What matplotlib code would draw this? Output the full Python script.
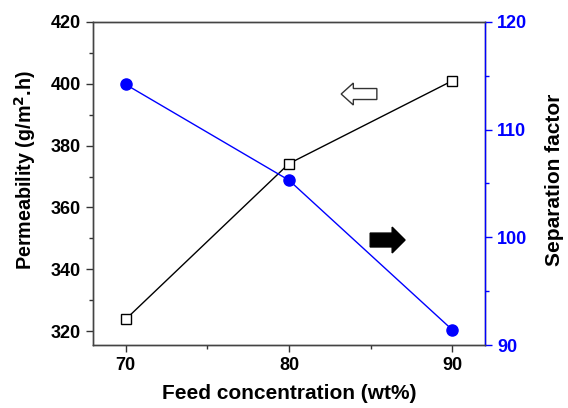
import matplotlib
matplotlib.use("Agg")
import matplotlib.pyplot as plt
from matplotlib.patches import FancyArrow
from matplotlib.ticker import MultipleLocator

plt.rcParams['font.family'] = ['Liberation Sans', 'DejaVu Sans']
plt.rcParams['font.weight'] = 'bold'

# data
feed_conc = [70, 80, 90]
permeability = [323.8, 374.2, 401.0]
separation = [114.2, 105.3, 91.4]

fig = plt.figure(figsize=(5.68, 4.08), dpi=100)
ax = fig.add_axes([0.1637, 0.1544, 0.6903, 0.7917])
ax2 = ax.twinx()

ax.plot(feed_conc, permeability, color='black', lw=1, marker='s', ms=7,
        mfc='white', mec='black', mew=1, zorder=3)
ax2.plot(feed_conc, separation, color='blue', lw=1, marker='o', ms=8,
         mfc='blue', mec='blue')

ax.set_xlim(68, 92)
ax.set_ylim(315.5, 420)
ax2.set_ylim(90, 120)

ax.xaxis.set_major_locator(MultipleLocator(10))
ax.xaxis.set_minor_locator(MultipleLocator(5))
ax.yaxis.set_major_locator(MultipleLocator(20))
ax.yaxis.set_minor_locator(MultipleLocator(10))
ax2.yaxis.set_major_locator(MultipleLocator(10))
ax2.yaxis.set_minor_locator(MultipleLocator(5))

for a in (ax, ax2):
    for s in a.spines.values():
        s.set_color('#444444')
        s.set_linewidth(1)
ax2.spines['right'].set_color('blue')

ax.tick_params(which='major', direction='out', length=5, width=1,
               labelsize=13, colors='#333333', labelcolor='black')
ax.tick_params(which='minor', direction='out', length=3, width=1, colors='#333333')
ax2.tick_params(which='major', direction='out', length=5, width=1,
                labelsize=13, colors='blue')
ax2.tick_params(which='minor', direction='out', length=3, width=1, colors='blue')

ax.set_xlabel('Feed concentration (wt%)', fontsize=15, fontweight='bold', labelpad=7)
ax.set_ylabel('Permeability (g/m$^\\mathbf{2}$.h)', fontsize=14.2,
              fontweight='bold')
ax.yaxis.set_label_coords(-0.14, 0.542)
ax2.set_ylabel('Separation factor', fontsize=15, fontweight='bold', color='black')
ax2.yaxis.set_label_coords(1.153, 0.511)

# indicator arrows (axes fraction coords)
ax.add_patch(FancyArrow(0.724, 0.777, -0.091, 0, width=0.034, head_width=0.068,
                        head_length=0.031, length_includes_head=True,
                        transform=ax.transAxes, facecolor='white',
                        edgecolor='#333333', lw=1, zorder=4))
ax.add_patch(FancyArrow(0.707, 0.325, 0.089, 0, width=0.043, head_width=0.08,
                        head_length=0.033, length_includes_head=True,
                        transform=ax.transAxes, facecolor='black',
                        edgecolor='black', lw=1, zorder=4))

fig.savefig('out.png', dpi=100)
